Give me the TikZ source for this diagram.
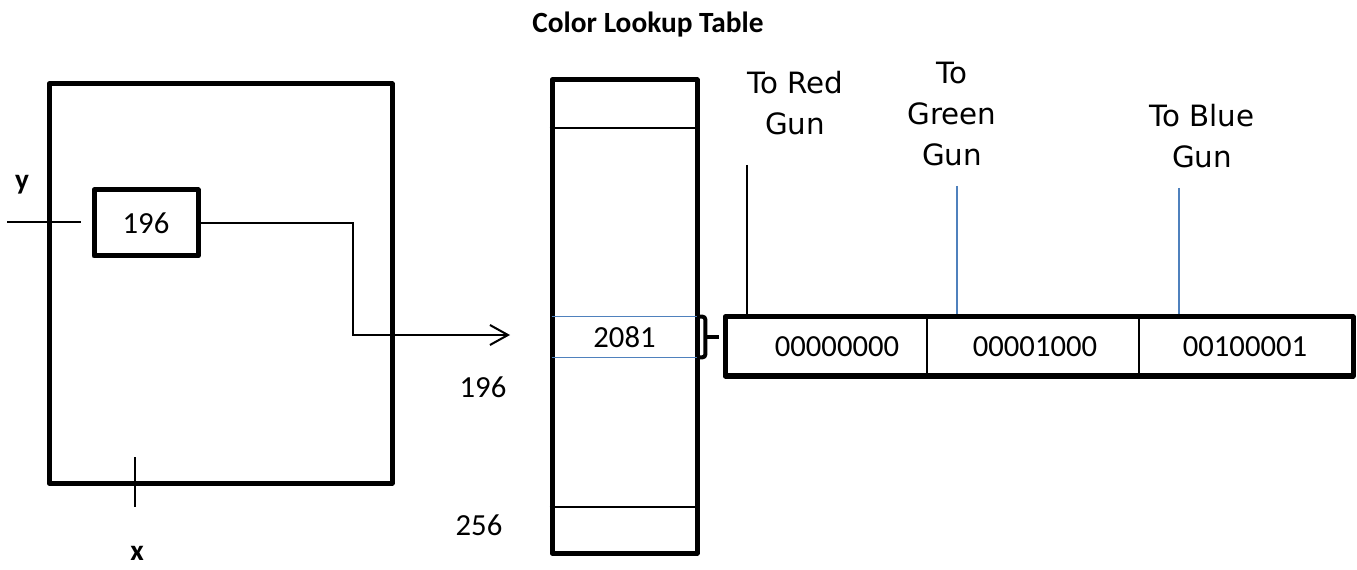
\documentclass[tikz,border=0pt]{standalone}
\usepackage{fontspec}
\setmainfont{Carlito}
\newfontfamily\gunfont{DejaVu Sans}
\usetikzlibrary{arrows.meta}
\definecolor{gunblue}{RGB}{79,129,189}
\tikzset{frame/.style={draw,line width=3.75pt,inner sep=0pt,line join=round}}
\tikzset{wire/.style={line width=1.5pt}}
\tikzset{bwire/.style={gunblue,line width=1.1pt}}
\tikzset{num/.style={font=\fontsize{23}{27}\selectfont,inner sep=0pt}}
\tikzset{gun/.style={font=\gunfont\fontsize{22}{31}\selectfont,align=center,inner sep=0pt}}
\tikzset{lbl/.style={font=\bfseries\fontsize{22}{26}\selectfont,inner sep=0pt}}

\begin{document}
\begin{tikzpicture}[x=0.75pt,y=-0.75pt]
                \useasboundingbox (0,0) rectangle (1357,570);
                % title
                \node[lbl] (title) at (648,25) {Color Lookup Table};
                % frame buffer
                \node[frame,minimum width=257.25pt,minimum height=299.25pt] (screen) at (220.5,283.5) {};
                \node[frame,num,minimum width=78pt,minimum height=49.5pt] (pix) at (146,223) {196};
                \node[lbl] (ylbl) at (22,185) {y};
                \node[lbl] (xlbl) at (137,553) {x};
                \coordinate (yl) at (7,222);
                \coordinate (yr) at (81,222);
                \coordinate (xt) at (135,457);
                \coordinate (xb) at (135,507);
                \draw[wire] (yl) -- (yr);
                \draw[wire] (xt) -- (xb);
                % lookup table
                \node[frame,minimum width=108.75pt,minimum height=354.75pt] (lut) at (624.5,316.5) {};
                \node[num,minimum width=108.75pt,minimum height=30pt] (entry) at (624.5,337) {2081};
                \draw[bwire] (entry.north west) -- (entry.north east) (entry.south west) -- (entry.south east);
                \coordinate (r1) at (0,128);
                \coordinate (r2) at (0,507);
                \draw[wire] (lut.west |- r1) -- (lut.east |- r1);
                \draw[wire] (lut.west |- r2) -- (lut.east |- r2);
                \node[num] (i196) at (483,387) {196};
                \node[num] (i256) at (479,525) {256};
                % pixel value to table
                \coordinate (bend) at (353,335);
                \coordinate (tip) at (510,335);
                \draw[wire,-{Straight Barb[length=13.5pt,width=15pt,line width=1.5pt]}] (pix.east) -| (bend) -- (tip);
                % bracket
                \draw[line width=3pt,rounded corners=2pt] (entry.north east) -- ++(8,0) |- (entry.south east);
                \draw[line width=3pt] ([xshift=6pt]entry.east) -- ++(14,0);
                % register
                \node[frame,minimum width=471pt,minimum height=44.25pt] (reg) at (1039,346.5) {};
                \coordinate (d1) at (927,0);
                \coordinate (d2) at (1139,0);
                \draw[wire] (reg.north -| d1) -- (reg.south -| d1);
                \draw[wire] (reg.north -| d2) -- (reg.south -| d2);
                \node[num] (vred) at (837,347) {00000000};
                \node[num] (vgreen) at (1035,347) {00001000};
                \node[num] (vblue) at (1245,347) {00100001};
                % guns
                \node[gun] (tored) at (795,103) {To Red\\Gun};
                \node[gun] (togreen) at (952,114) {To\\Green\\Gun};
                \node[gun] (toblue) at (1202,136) {To Blue\\Gun};
                \coordinate (rt) at (747,165);
                \coordinate (gt) at (957,186);
                \coordinate (bt) at (1179,188);
                \draw[line width=1.1pt] (rt) -- (rt |- reg.north);
                \draw[bwire] (gt) -- (gt |- reg.north);
                \draw[bwire] (bt) -- (bt |- reg.north);
            \end{tikzpicture}
\end{document}
